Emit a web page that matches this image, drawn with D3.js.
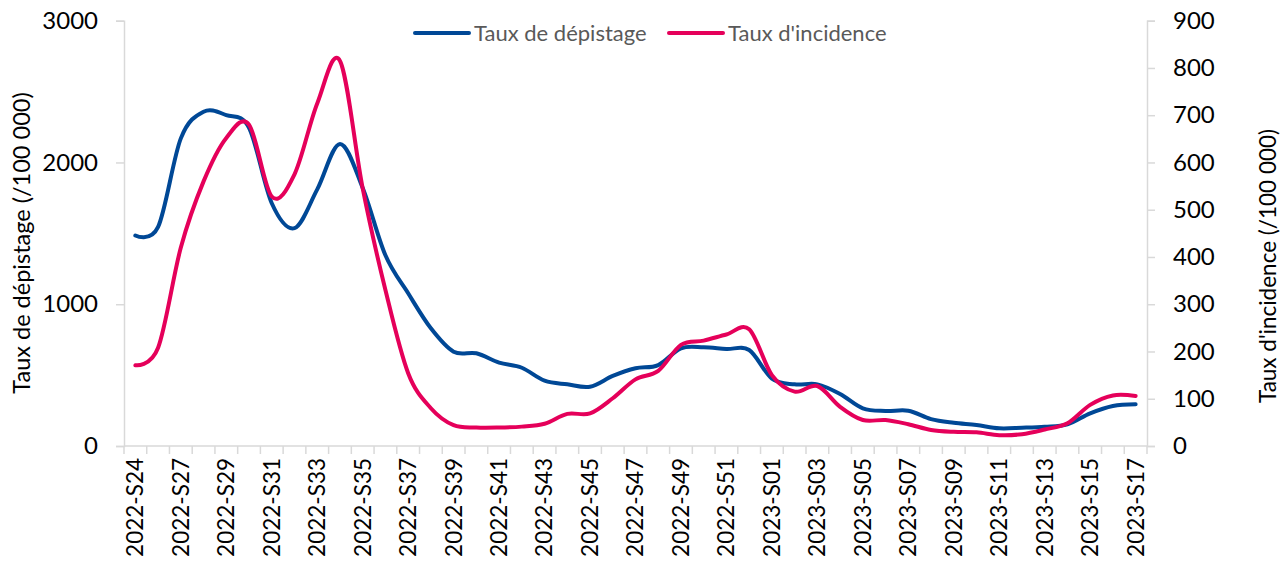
<!DOCTYPE html>
<html>
<head>
<meta charset="utf-8">
<script src="https://cdn.jsdelivr.net/npm/d3@7"></script>
<style>
  body { margin: 0; background: #fff; }
  text { font-family: Lato, "Open Sans", sans-serif; }
</style>
</head>
<body>
<div id="chart"></div>
<script>

// weeks (one week of 2022 missing between S24 and S27)
var weeks = ["2022-S24","2022-S26","2022-S27","2022-S28","2022-S29","2022-S30","2022-S31","2022-S32",
    "2022-S33","2022-S34","2022-S35","2022-S36","2022-S37","2022-S38","2022-S39","2022-S40","2022-S41",
    "2022-S42","2022-S43","2022-S44","2022-S45","2022-S46","2022-S47","2022-S48","2022-S49","2022-S50",
    "2022-S51","2022-S52","2023-S01","2023-S02","2023-S03","2023-S04","2023-S05","2023-S06","2023-S07",
    "2023-S08","2023-S09","2023-S10","2023-S11","2023-S12","2023-S13","2023-S14","2023-S15","2023-S16",
    "2023-S17"];

// Taux de dépistage (left axis)
var depistage = [1485, 1545, 2170, 2358, 2334, 2245, 1712, 1537, 1810, 2130, 1820, 1345, 1077, 830, 665,
    654, 588, 552, 461, 435, 418, 494, 548, 571, 689, 696, 684, 677, 475, 435, 435, 367, 266, 247, 249,
    190, 164, 148, 125, 129, 136, 153, 230, 282, 294];

// Taux d'incidence (right axis)
var incidence = [171, 208, 420, 560, 652, 680, 528, 575, 725, 815, 545, 330, 154, 80, 44, 39, 39, 41, 47,
    68, 69, 101, 141, 159, 214, 223, 236, 247, 150, 115, 127, 83, 55, 55, 46, 34, 30, 29, 23, 25, 35, 48,
    87, 107, 106];

var leftTicks = [0, 1000, 2000, 3000];
var rightTicks = [0, 100, 200, 300, 400, 500, 600, 700, 800, 900];

var width = 1282, height = 565;
var plot = {left: 124, right: 1147, top: 20.7, bottom: 446};
var axisGrey = "#d9d9d9";
var blue = "#004896", red = "#e5005a";

var svg = d3.select("#chart").append("svg")
    .attr("width", width)
    .attr("height", height);

var x = d3.scaleBand()
    .domain(weeks)
    .range([plot.left, plot.right])
    .padding(0);

var yL = d3.scaleLinear().domain([0, 3000]).range([plot.bottom, plot.top]);
var yR = d3.scaleLinear().domain([0, 900]).range([plot.bottom, plot.top]);

// x axis line + tick marks between categories
svg.append("line")
    .attr("x1", plot.left).attr("x2", plot.right)
    .attr("y1", plot.bottom).attr("y2", plot.bottom)
    .attr("stroke", axisGrey).attr("stroke-width", 1.5);

var bounds = weeks.map(function(w) { return x(w); }).concat([x.range()[1]]);
svg.selectAll(".xtick")
    .data(bounds)
    .enter().append("line")
    .attr("class", "xtick")
    .attr("x1", function(d) { return d; }).attr("x2", function(d) { return d; })
    .attr("y1", plot.bottom).attr("y2", plot.bottom + 8)
    .attr("stroke", axisGrey).attr("stroke-width", 1.5);

// x labels, every other week
svg.selectAll(".xlab")
    .data(weeks.filter(function(w, i) { return i % 2 === 0; }))
    .enter().append("text")
    .attr("class", "xlab")
    .attr("transform", function(d) {
        return "translate(" + (x(d) + x.bandwidth() / 2) + "," + (plot.bottom + 12) + ") rotate(-90)";
    })
    .attr("dy", "0.35em")
    .attr("text-anchor", "end")
    .attr("font-size", 22.5)
    .attr("fill", "#000")
    .text(function(d) { return d; });

// left axis
var gL = svg.append("g")
    .attr("transform", "translate(" + plot.left + ",0)")
    .call(d3.axisLeft(yL).tickValues(leftTicks).tickSize(8).tickPadding(18).tickFormat(d3.format("d")));
gL.select(".domain").attr("stroke", axisGrey).attr("stroke-width", 1.5);
gL.selectAll(".tick line").attr("stroke", axisGrey).attr("stroke-width", 1.5);
gL.selectAll(".tick text").attr("font-size", 24).attr("fill", "#000").style("font-family", "Lato, sans-serif");

// right axis
var gR = svg.append("g")
    .attr("transform", "translate(" + plot.right + ",0)")
    .call(d3.axisRight(yR).tickValues(rightTicks).tickSize(8).tickPadding(18).tickFormat(d3.format("d")));
gR.select(".domain").attr("stroke", axisGrey).attr("stroke-width", 1.5);
gR.selectAll(".tick line").attr("stroke", axisGrey).attr("stroke-width", 1.5);
gR.selectAll(".tick text").attr("font-size", 24).attr("fill", "#000").style("font-family", "Lato, sans-serif");

// axis titles
svg.append("text")
    .attr("transform", "translate(22,243) rotate(-90)")
    .attr("dy", "0.35em")
    .attr("text-anchor", "middle")
    .attr("font-size", 23.5)
    .attr("fill", "#000")
    .text("Taux de dépistage (/100 000)");

svg.append("text")
    .attr("transform", "translate(1268,266) rotate(-90)")
    .attr("dy", "0.35em")
    .attr("text-anchor", "middle")
    .attr("font-size", 22.5)
    .attr("fill", "#000")
    .text("Taux d'incidence (/100 000)");

// lines
var cx = function(d, i) { return x(weeks[i]) + x.bandwidth() / 2; };

var lineL = d3.line()
    .x(cx)
    .y(function(d) { return yL(d); })
    .curve(d3.curveCardinal.tension(0));

var lineR = d3.line()
    .x(cx)
    .y(function(d) { return yR(d); })
    .curve(d3.curveCardinal.tension(0));

svg.append("path")
    .datum(depistage)
    .attr("d", lineL)
    .attr("fill", "none")
    .attr("stroke", blue)
    .attr("stroke-width", 4)
    .attr("stroke-linejoin", "round")
    .attr("stroke-linecap", "round");

svg.append("path")
    .datum(incidence)
    .attr("d", lineR)
    .attr("fill", "none")
    .attr("stroke", red)
    .attr("stroke-width", 4)
    .attr("stroke-linejoin", "round")
    .attr("stroke-linecap", "round");

// legend
var legend = [
    {label: "Taux de dépistage", color: blue, x: 415},
    {label: "Taux d'incidence", color: red, x: 669}
];
var lg = svg.selectAll(".legend")
    .data(legend)
    .enter().append("g")
    .attr("class", "legend")
    .attr("transform", function(d) { return "translate(" + d.x + ",33)"; });
lg.append("line")
    .attr("x1", 0).attr("x2", 54)
    .attr("stroke", function(d) { return d.color; })
    .attr("stroke-width", 4)
    .attr("stroke-linecap", "round");
lg.append("text")
    .attr("x", 59)
    .attr("dy", "0.35em")
    .attr("font-size", 22)
    .attr("fill", "#595959")
    .text(function(d) { return d.label; });

</script>
</body>
</html>
